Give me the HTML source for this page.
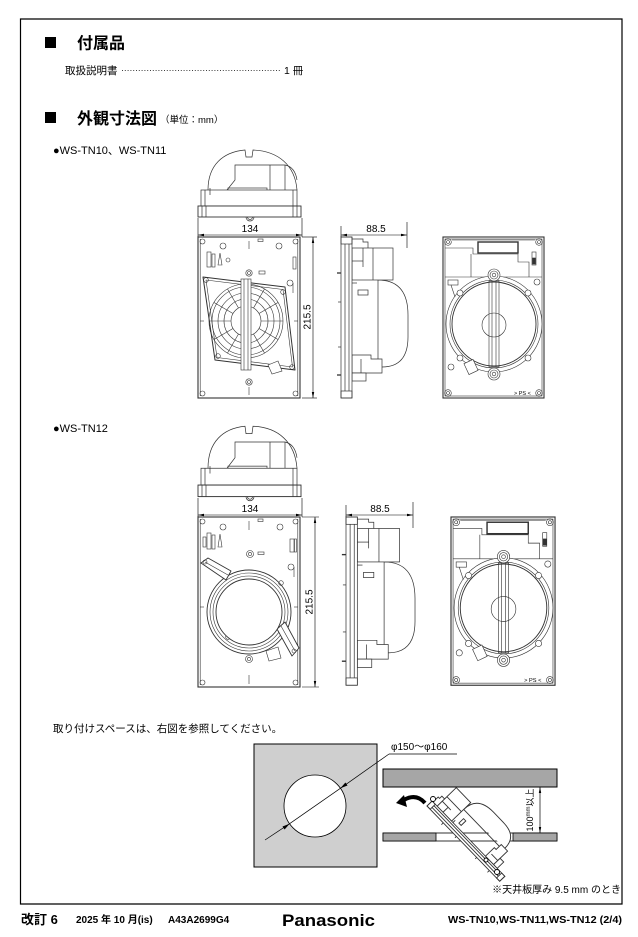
<!DOCTYPE html>
<html><head><meta charset="utf-8">
<style>
html,body{margin:0;padding:0;background:#fff;}
svg{display:block;}
text{font-family:"Liberation Sans","Noto Sans CJK JP",sans-serif;fill:#000;}
</style></head><body>
<svg width="638" height="937" viewBox="0 0 638 937" xmlns="http://www.w3.org/2000/svg">
<defs>
<marker id="ar" viewBox="0 0 10 10" refX="10" refY="5" markerUnits="userSpaceOnUse" markerWidth="6" markerHeight="6" orient="auto-start-reverse"><path d="M0,3 L10,5 L0,7 z" fill="#000"/></marker>

<g id="top" fill="none" stroke="#333" stroke-width="0.7">
 <path d="M10 45 C10 20 25 7 47 5 L48 12 L54 12 L55 5 C80 6 97 20 99 45" fill="#fff"/>
 <path d="M25 50 L37 35 L37 20 L87 20 Q97 22 99 35"/>
 <line x1="87" y1="20" x2="87" y2="45"/>
 <line x1="72" y1="20" x2="72" y2="45"/>
 <rect x="30" y="43" width="39" height="7"/>
 <rect x="3" y="45" width="96" height="16" fill="#fff"/>
 <line x1="7" y1="45" x2="7" y2="61"/><line x1="95" y1="45" x2="95" y2="61"/>
 <line x1="12" y1="43" x2="12" y2="50"/>
 <rect x="0" y="61" width="103" height="11" fill="#fff" stroke-width="0.9"/>
 <line x1="4" y1="61" x2="4" y2="72"/><line x1="8" y1="61" x2="8" y2="72"/>
 <line x1="95" y1="61" x2="95" y2="72"/><line x1="99" y1="61" x2="99" y2="72"/>
 <path d="M48 72 A4 4 0 0 0 56 72"/>
 <path d="M49.5 72 A2.5 2.5 0 0 0 54.5 72"/>
</g>

<g id="side" fill="none" stroke="#333">
 <line x1="-4" y1="36" x2="0" y2="36" stroke-width="1.3"/>
 <line x1="-3" y1="65" x2="0" y2="65"/>
 <line x1="-3" y1="110" x2="0" y2="110"/>
 <line x1="-4" y1="138" x2="0" y2="138" stroke-width="1.3"/>
 <path d="M37 43 Q67 43 67 78 L67 100 Q67 130 41 130" fill="#fff"/>
 <line x1="37" y1="43" x2="37" y2="128"/>
 <path d="M11 2 H22 V5 H27 V11" fill="#fff"/>
 <rect x="11" y="11" width="41" height="32" fill="#fff"/>
 <line x1="32" y1="11" x2="32" y2="43"/>
 <line x1="11" y1="24" x2="22" y2="24"/>
 <line x1="22" y1="11" x2="22" y2="30"/>
 <rect x="17" y="53" width="10" height="5" fill="#fff"/>
 <line x1="11" y1="46" x2="16" y2="46"/>
 <path d="M11 118 H30 V122 H41 V136 H11 Z" fill="#fff"/>
 <line x1="20" y1="122" x2="20" y2="136"/>
 <rect x="11" y="136" width="14" height="8" fill="#fff"/>
 <rect x="0" y="0" width="11" height="161" fill="#fff"/>
 <line x1="4" y1="7" x2="4" y2="154"/>
 <line x1="8" y1="7" x2="8" y2="154"/>
 <rect x="0" y="0" width="11" height="7"/>
 <rect x="0" y="154" width="11" height="7"/>
</g>

<g id="back" fill="none" stroke="#333" stroke-width="0.6">
 <rect x="0" y="0" width="101" height="161" stroke-width="1.1" fill="#fff"/>
 <rect x="2" y="2" width="97" height="157"/>
 <circle cx="5" cy="5" r="3.3"/><circle cx="96" cy="5" r="3.3"/><circle cx="5" cy="156" r="3.3"/><circle cx="96" cy="156" r="3.3"/>
 <circle cx="5" cy="5" r="1.5"/><circle cx="96" cy="5" r="1.5"/><circle cx="5" cy="156" r="1.5"/><circle cx="96" cy="156" r="1.5"/>
 <path d="M9 3 H92 M2 11 H30 V17 H75 V25 H86 V40"/>
 <line x1="28" y1="17" x2="28" y2="40"/>
 <line x1="2" y1="40" x2="44" y2="40"/><line x1="58" y1="40" x2="99" y2="40"/>
 <rect x="35" y="5" width="40" height="11" stroke-width="1.4"/>
 <rect x="89" y="15" width="4" height="13"/>
 <rect x="89.5" y="21" width="3" height="6" fill="#333"/>
 <circle cx="51" cy="87" r="48" fill="#fff"/>
 <circle cx="51" cy="87" r="44"/>
 <circle cx="51" cy="87" r="42" stroke-width="0.9"/>
 <circle cx="17" cy="56" r="3" fill="#fff"/><circle cx="85" cy="56" r="3" fill="#fff"/>
 <circle cx="17" cy="121" r="3" fill="#fff"/><circle cx="85" cy="121" r="3" fill="#fff"/>
 <circle cx="94" cy="45" r="3"/><circle cx="8" cy="130" r="3"/>
 <rect x="46" y="44" width="10" height="86"/>
 <line x1="49" y1="44" x2="49" y2="130"/><line x1="53" y1="44" x2="53" y2="130"/>
 <circle cx="51" cy="88" r="12"/>
 <circle cx="51" cy="38" r="6" fill="#fff"/><circle cx="51" cy="38" r="4"/><circle cx="51" cy="38" r="1.8"/>
 <circle cx="51" cy="137" r="6" fill="#fff"/><circle cx="51" cy="137" r="4"/><circle cx="51" cy="137" r="1.8"/>
 <rect x="5" y="43" width="10" height="5"/>
 <path d="M8 48 L12 60"/>
 <rect x="23" y="124" width="10" height="12" transform="rotate(-25 28 130)" fill="#fff"/>
 <text x="71" y="158" font-size="5.5" stroke="none" fill="#000">&gt; PS &lt;</text>
</g>

<g id="front1" fill="none" stroke="#333" stroke-width="0.6">
 <rect x="0" y="0" width="102" height="161" stroke-width="1.1" fill="#fff"/>
 <line x1="2.2" y1="2" x2="2.2" y2="159"/>
 <line x1="99.8" y1="2" x2="99.8" y2="159"/>
 <circle cx="4.5" cy="4.5" r="2.5"/><circle cx="97.5" cy="4.5" r="2.5"/><circle cx="4.5" cy="156.5" r="2.5"/><circle cx="97.5" cy="156.5" r="2.5"/>
 <circle cx="25" cy="9" r="3"/><circle cx="81" cy="9" r="3"/>
 <rect x="60" y="2" width="5" height="2.5"/>
 <line x1="51" y1="4" x2="51" y2="12"/><line x1="51" y1="150" x2="51" y2="158"/>
 <line x1="2" y1="84" x2="6" y2="84"/><line x1="96" y1="84" x2="100" y2="84"/>
 <rect x="9" y="15" width="4" height="15"/><rect x="14" y="17" width="3" height="13"/>
 <path d="M20 28 L22 16 L24 28 Z"/>
 <circle cx="30" cy="23" r="2"/>
 <rect x="95" y="20" width="3" height="12"/>
 <circle cx="92" cy="46" r="3"/><line x1="95" y1="46" x2="95" y2="56"/>
 <circle cx="51" cy="36" r="3.2"/><circle cx="51" cy="36" r="1.5"/>
 <rect x="61" y="34" width="6" height="3"/>
 <path d="M5 40 L87 50 L97 133 L17 123 Z" stroke-linejoin="round" stroke-width="1" fill="#fff"/>
 <path d="M8 43 L85 52.5 L94.5 130 L19 120.5 Z" stroke-linejoin="round"/>
 <circle cx="8" cy="43" r="2.3"/><circle cx="85" cy="55" r="2.3"/><circle cx="94" cy="130" r="2.3"/><circle cx="20" cy="119" r="2.3"/>
 <circle cx="48" cy="84" r="37"/>
 <circle cx="48" cy="84" r="34"/>
 <circle cx="48" cy="84" r="28"/>
 <circle cx="48" cy="84" r="22"/>
 <circle cx="48" cy="84" r="15"/>
 <path d="M63 84 L85 84 M61 91.5 L80 102.5 M55.5 97 L66.5 116 M40.5 97 L29.5 116 M35 91.5 L16 102.5 M33 84 L11 84 M35 76.5 L16 65.5 M40.5 71 L29.5 52 M55.5 71 L66.5 52 M61 76.5 L80 65.5"/>
 <rect x="43" y="42" width="10" height="91" fill="#fff"/>
 <line x1="46" y1="42" x2="46" y2="133"/><line x1="50" y1="42" x2="50" y2="133"/>
 <path d="M70 128 L80 124 L84 134 L74 137 Z" fill="#fff"/>
 <circle cx="51" cy="145" r="3.2"/><circle cx="51" cy="145" r="1.5"/>
</g>

<g id="front2" fill="none" stroke="#333" stroke-width="0.6">
 <rect x="0" y="0" width="102" height="170" stroke-width="1.1" fill="#fff"/>
 <line x1="2.2" y1="2" x2="2.2" y2="168"/>
 <line x1="99.8" y1="2" x2="99.8" y2="168"/>
 <circle cx="4.5" cy="4.5" r="2.5"/><circle cx="97.5" cy="4.5" r="2.5"/><circle cx="4.5" cy="165.5" r="2.5"/><circle cx="97.5" cy="165.5" r="2.5"/>
 <circle cx="25" cy="10" r="3"/><circle cx="82" cy="10" r="3"/>
 <rect x="60" y="2" width="5" height="2.5"/>
 <line x1="51" y1="4" x2="51" y2="13"/><line x1="51" y1="158" x2="51" y2="167"/>
 <line x1="2" y1="90" x2="6" y2="90"/><line x1="96" y1="90" x2="100" y2="90"/>
 <rect x="9" y="16" width="4" height="16"/><rect x="14" y="18" width="3" height="14"/>
 <path d="M20 30 L22 17 L24 30 Z"/>
 <rect x="5" y="20" width="3" height="10"/>
 <rect x="92" y="22" width="4" height="13"/><rect x="96.5" y="22" width="2" height="13"/>
 <circle cx="52" cy="37" r="3.5"/><circle cx="52" cy="37" r="1.6"/>
 <rect x="60" y="35" width="6" height="2.5"/>
 <circle cx="93" cy="50" r="3"/><line x1="96" y1="50" x2="96" y2="60"/>
 <circle cx="51" cy="95" r="42" fill="#fff" stroke-width="0.9"/>
 <circle cx="51" cy="95" r="39"/>
 <circle cx="51" cy="95" r="36"/>
 <path d="M3 46 L10 41 L33 54 L28 63 Z" fill="#fff" stroke-linejoin="round" stroke-width="0.9"/>
 <path d="M79 112 L87 105 L101 131 L94 139 Z" fill="#fff" stroke-linejoin="round" stroke-width="0.9"/>
 <path d="M7 45 L30 58 M83 109 L97 134"/>
 <circle cx="7" cy="45" r="2"/><circle cx="96" cy="134" r="2"/>
 <circle cx="30" cy="120" r="2.3"/><circle cx="83" cy="66" r="2.3"/>
 <circle cx="51" cy="95" r="33" fill="#fff" stroke-width="0.9"/>
 <path d="M68 134 L80 130 L83 141 L71 144 Z" fill="#fff"/>
 <circle cx="51" cy="142" r="3.5" fill="#fff"/><circle cx="51" cy="142" r="1.6"/>
</g>
</defs>

<!-- page border -->
<path d="M20.5 19 H622 V904 H20.5 Z" fill="none" stroke="#000" stroke-width="1.2"/>

<!-- section 1 -->
<rect x="45" y="37" width="11" height="11" fill="#000"/>
<text x="77" y="48.5" font-size="16" font-weight="bold">付属品</text>
<text x="65" y="74" font-size="10.5">取扱説明書</text>
<line x1="122" y1="70.5" x2="280" y2="70.5" stroke="#000" stroke-width="0.8" stroke-dasharray="1 1.8"/>
<text x="284" y="74" font-size="10.5">1 冊</text>

<!-- section 2 -->
<rect x="45" y="112" width="11" height="11" fill="#000"/>
<text x="77" y="124" font-size="16" font-weight="bold">外観寸法図</text>
<text x="160" y="123" font-size="9.5">（単位：mm）</text>
<text x="53" y="154" font-size="11">●WS-TN10、WS-TN11</text>

<!-- set 1 -->
<use href="#top" transform="translate(198,145)"/>
<use href="#front1" transform="translate(198,237)"/>
<use href="#side" transform="translate(341,237)" stroke-width="0.7"/>
<use href="#back" transform="translate(443,237)"/>

<g stroke="#000" stroke-width="0.6" fill="none">
 <line x1="198" y1="218" x2="198" y2="237"/><line x1="302" y1="218" x2="302" y2="237"/>
 <line x1="198" y1="235" x2="302" y2="235" marker-start="url(#ar)" marker-end="url(#ar)"/>
 <line x1="302" y1="237" x2="317" y2="237"/><line x1="302" y1="398" x2="317" y2="398"/>
 <line x1="313" y1="237" x2="313" y2="398" marker-start="url(#ar)" marker-end="url(#ar)"/>
 <line x1="341" y1="226" x2="341" y2="237"/><line x1="407" y1="222" x2="407" y2="248"/>
 <line x1="341" y1="235" x2="407" y2="235" marker-start="url(#ar)" marker-end="url(#ar)"/>
</g>
<text x="250" y="232" font-size="10" text-anchor="middle">134</text>
<text x="376" y="232" font-size="10" text-anchor="middle">88.5</text>
<text transform="translate(310.5,317) rotate(-90)" font-size="10" text-anchor="middle">215.5</text>

<!-- set 2 -->
<text x="53" y="432" font-size="11">●WS-TN12</text>
<use href="#top" transform="translate(198,421) scale(1,1.05)"/>
<use href="#front2" transform="translate(198,517)"/>
<use href="#side" transform="translate(346,517) scale(1.03,1.045)" stroke-width="0.7"/>
<use href="#back" transform="translate(451,517) scale(1.03,1.045)"/>

<g stroke="#000" stroke-width="0.6" fill="none">
 <line x1="198" y1="498" x2="198" y2="517"/><line x1="302" y1="498" x2="302" y2="517"/>
 <line x1="198" y1="515" x2="302" y2="515" marker-start="url(#ar)" marker-end="url(#ar)"/>
 <line x1="302" y1="517" x2="319" y2="517"/><line x1="302" y1="687" x2="319" y2="687"/>
 <line x1="315" y1="517" x2="315" y2="687" marker-start="url(#ar)" marker-end="url(#ar)"/>
 <line x1="346" y1="505" x2="346" y2="517"/><line x1="413" y1="502" x2="413" y2="528"/>
 <line x1="346" y1="515" x2="413" y2="515" marker-start="url(#ar)" marker-end="url(#ar)"/>
</g>
<text x="250" y="512" font-size="10" text-anchor="middle">134</text>
<text x="380" y="512" font-size="10" text-anchor="middle">88.5</text>
<text transform="translate(312.5,602) rotate(-90)" font-size="10" text-anchor="middle">215.5</text>

<!-- installation -->
<text x="53" y="732" font-size="10.5">取り付けスペースは、右図を参照してください。</text>

<rect x="254" y="744" width="123" height="123" fill="#cfcfcf" stroke="#000" stroke-width="1"/>
<circle cx="315" cy="806" r="31" fill="#fff" stroke="#000" stroke-width="0.8"/>
<g stroke="#000" stroke-width="0.7" fill="none">
 <line x1="265" y1="840" x2="289.6" y2="823.7"/>
 <line x1="289.6" y1="823.7" x2="340.4" y2="788.3"/>
 <line x1="340.4" y1="788.3" x2="389" y2="754"/>
 <line x1="389" y1="754" x2="457" y2="754"/>
</g>
<path d="M289.6 823.7 L282.5 826.5 L284.6 829.5 Z" fill="#000"/>
<path d="M340.4 788.3 L347.5 785.5 L345.4 782.5 Z" fill="#000"/>
<text x="391" y="750" font-size="10">φ150～φ160</text>

<rect x="383" y="769" width="174" height="18" fill="#a6a6a6" stroke="#000" stroke-width="1"/>
<rect x="383" y="833" width="174" height="8" fill="#fff" stroke="#000" stroke-width="0.8"/>
<rect x="383" y="833" width="53" height="8" fill="#a6a6a6" stroke="#000" stroke-width="0.8"/>
<rect x="513" y="833" width="44" height="8" fill="#a6a6a6" stroke="#000" stroke-width="0.8"/>
<line x1="540" y1="787" x2="540" y2="833" stroke="#000" stroke-width="0.7" marker-start="url(#ar)" marker-end="url(#ar)"/>
<text transform="translate(533,810) rotate(-90)" font-size="9" text-anchor="middle">100<tspan font-size="6" dy="-3">mm</tspan><tspan dy="3">以上</tspan></text>

<path d="M425 803 Q416 793 404 800" fill="none" stroke="#000" stroke-width="4"/>
<path d="M396 803 L404 795 L407 807 Z" fill="#000"/>

<use href="#side" transform="translate(427,806) rotate(-44) scale(0.65)" stroke-width="1.4"/>
<g fill="#fff" stroke="#000" stroke-width="0.9">
 <circle cx="433" cy="799" r="2.5"/>
 <circle cx="497" cy="872" r="2.5"/>
 <circle cx="486" cy="860" r="2"/>
</g>

<text x="621" y="893" font-size="10" text-anchor="end">※天井板厚み 9.5 mm のとき</text>

<!-- footer -->
<text x="21" y="924" font-size="13" font-weight="bold">改訂 6</text>
<text x="76" y="923" font-size="10" font-weight="bold">2025 年 10 月(is)</text>
<text x="168" y="923" font-size="10" font-weight="bold">A43A2699G4</text>
<text x="282" y="926" font-size="17" font-weight="bold" textLength="93" lengthAdjust="spacingAndGlyphs">Panasonic</text>
<text x="448" y="923" font-size="10" font-weight="bold" textLength="174" lengthAdjust="spacingAndGlyphs">WS-TN10,WS-TN11,WS-TN12 (2/4)</text>
</svg>
</body></html>
